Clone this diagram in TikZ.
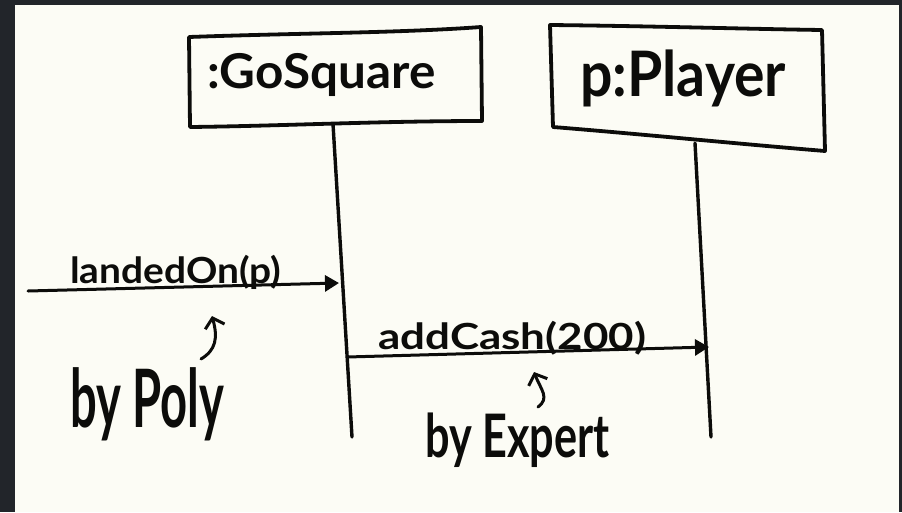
\documentclass[tikz,border=0pt]{standalone}
\usepackage{fontspec}
\setmainfont{Lato}
\usetikzlibrary{arrows.meta}
\definecolor{paper}{RGB}{252,252,245}
\definecolor{frame}{RGB}{34,37,42}
\definecolor{ink}{RGB}{12,12,10}
\begin{document}
\begin{tikzpicture}[x=1pt,y=-1pt,
  inkline/.style={draw=ink,line width=3pt,line cap=round,line join=round},
  boxline/.style={inkline,line width=3.8pt},
  lifeline/.style={inkline,line width=3.4pt},
  msg/.style={inkline,-{Triangle[length=14pt,width=16pt]}},
  hint/.style={inkline,line width=3pt,-{Straight Barb[length=9pt,width=20pt,line width=3pt]}},
  lbl/.style={inner sep=0pt,text=ink,anchor=base west}]
\useasboundingbox (0,0) rectangle (902,512);
% dark frame and paper sheet
\fill[frame] (0,0) rectangle (902,512);
\fill[paper] (15,5) rectangle (899,512);

% object boxes
\coordinate (gsTL) at (189,37);
\coordinate (gsTR) at (481,27);
\coordinate (gsBR) at (482,121);
\coordinate (gsBL) at (190,127);
\draw[boxline] (gsTL) .. controls (300,33) and (400,33) .. (gsTR) -- (gsBR)
  .. controls (380,121) and (280,126) .. (gsBL) -- cycle;
\node[lbl,font=\bfseries\fontsize{48}{48}\selectfont,xscale=1.03] (gsName) at (207,88) {:GoSquare};

\coordinate (plTL) at (550,25);
\coordinate (plTR) at (822,30);
\coordinate (plBR) at (825,151);
\coordinate (plBL) at (553,127);
\draw[boxline] (plTL) .. controls (650,26) and (750,29) .. (plTR) -- (plBR)
  .. controls (740,144) and (640,134) .. (plBL) -- cycle;
\node[lbl,font=\bfseries\fontsize{56}{56}\selectfont,xscale=1.02,yscale=1.12] (plName) at (580,96) {p:Player};

% lifelines
\coordinate (gsFoot) at (333,124);
\coordinate (gsEnd) at (352,437);
\coordinate (plFoot) at (695,143);
\coordinate (plEnd) at (711,437);
\draw[lifeline] (gsFoot) -- (gsEnd);
\draw[lifeline] (plFoot) -- (plEnd);

% messages
\coordinate (caller) at (28,291);
\coordinate (gsHit) at (339,283);
\coordinate (gsOut) at (347,357);
\coordinate (plHit) at (709,347);
\draw[msg] (caller) -- (gsHit);
\draw[msg] (gsOut) -- (plHit);
\node[lbl,font=\bfseries\fontsize{36}{36}\selectfont,xscale=1.08] (landed) at (70,283) {landedOn(p)};
\node[lbl,font=\bfseries\fontsize{36}{36}\selectfont,xscale=1.22] (cash) at (378,349) {addCash(200)};

% pattern notes
\node[lbl,font=\bfseries\fontsize{62}{62}\selectfont,xscale=0.76,yscale=1.3] (poly) at (70,427) {by Poly};
\node[lbl,font=\bfseries\fontsize{60}{60}\selectfont,xscale=0.72] (expert) at (425,457) {by Expert};
\draw[hint] (201,359) .. controls (216,350) and (218,338) .. (212,316);
\draw[hint] (538,407) .. controls (550,398) and (541,390) .. (534,372);
\end{tikzpicture}
\end{document}
